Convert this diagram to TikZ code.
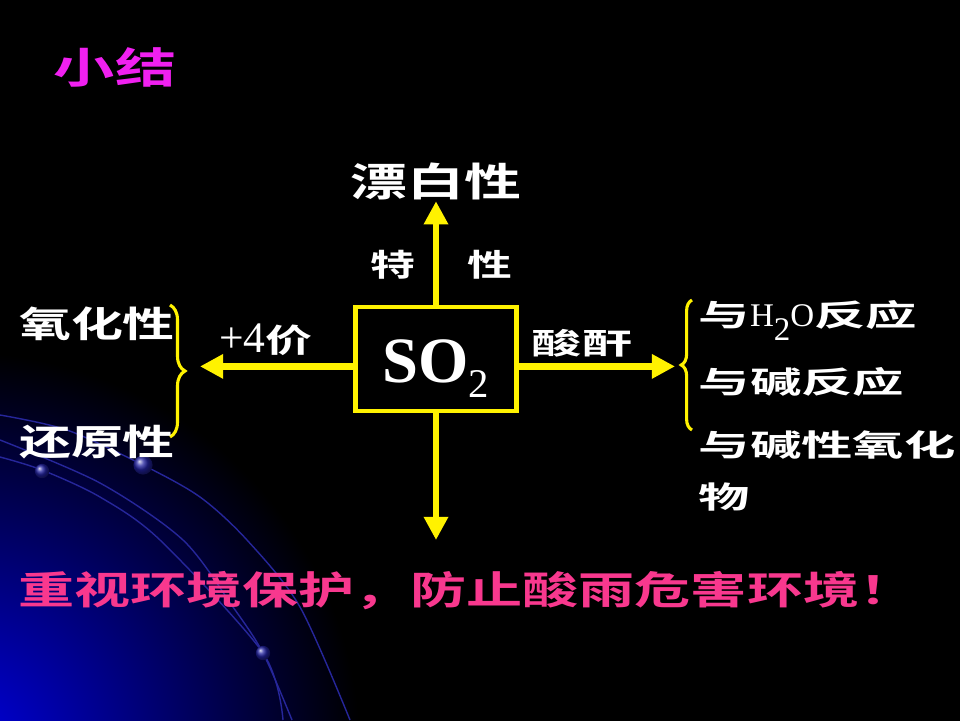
\documentclass[tikz,border=0pt]{standalone}
\usepackage{fontspec}
\setmainfont{Liberation Serif}
\newfontfamily\cjk[FakeStretch=1.45]{Noto Sans CJK SC Bold}
\newfontfamily\cjkw[FakeStretch=1.7]{Noto Sans CJK SC Bold}
\usetikzlibrary{arrows.meta, decorations.pathreplacing}
\definecolor{titlemag}{HTML}{F020F0}
\definecolor{warnpink}{HTML}{F8388E}
\definecolor{bgblue}{HTML}{0000E0}
\definecolor{arcblue}{HTML}{26269A}
\definecolor{dotblue}{HTML}{2222A0}

\begin{document}
\begin{tikzpicture}[
  txt/.style={text=white, inner sep=1pt},
  arr/.style={draw=yellow, line width=4.5pt, -{Triangle[length=0.58cm, width=0.58cm]}},
  brc/.style={decorate, draw=yellow, line width=2.2pt}]
  \useasboundingbox (0,0) rectangle (24,18);
  \fill[black] (-0.2,-0.2) rectangle (24.2,18.2);
  % blue glow and arcs, bottom left
  \begin{scope}
    \clip (-0.2,-0.2) rectangle (24,18);
    \shade[inner color=bgblue, outer color=black] (-1.0,-0.8) circle (10);
    \draw[arcblue, line width=1pt] plot[smooth] coordinates {(0,7.625) (1.675,7.25) (3.575,6.375) (5.0,5.575) (6.175,4.5) (7.5,2.825) (8.75,0)};
    \draw[arcblue, line width=1pt] plot[smooth] coordinates {(0,6.575) (1.05,6.25) (2.5,5.575) (4.0,4.5) (6.575,1.675) (7.075,0)};
    \draw[arcblue, line width=1pt] plot[smooth] coordinates {(0,7.0) (2.5,5.925) (4.575,4.5) (5.825,2.825) (6.575,1.675) (7.3,0)};
    \shade[ball color=dotblue] (3.575,6.375) circle (0.24);
    \shade[ball color=dotblue] (1.05,6.225) circle (0.18);
    \shade[ball color=dotblue] (6.575,1.675) circle (0.18);
  \end{scope}
  \node[text=titlemag, font=\cjk\fontsize{30}{30}\selectfont] (title) at (2.875,16.325) {小结};
  % centre box
  \node[draw=yellow, line width=3pt, minimum width=4.02cm, minimum height=2.6cm] (so2) at (10.9,9.025) {};
  \node[font=\fontsize{46}{46}\selectfont, text=white] (so2f) at ([yshift=-0.25cm]so2.center)
    {\textbf{SO}\raisebox{-10.7pt}{\fontsize{29}{29}\selectfont 2}};
  \node[txt, font=\cjk\fontsize{28}{28}\selectfont] (bai) at (10.9,13.475) {漂白性};
  \node[txt, font=\cjk\fontsize{22}{22}\selectfont] (te) at (9.825,11.375) {特};
  \node[txt, font=\cjk\fontsize{22}{22}\selectfont] (xing) at (12.25,11.375) {性};
  \node[txt, font=\cjkw\fontsize{21}{21}\selectfont] (suan) at (14.55,9.425) {酸酐};
  \node[txt, font=\fontsize{31}{31}\selectfont] (jia) at (6.65,9.5) {+4{\cjk\fontsize{23}{23}\selectfont 价}};
  % arrows
  \coordinate (dn) at (10.9,4.5);
  \coordinate (lt) at (5.0,8.84);
  \coordinate (rt) at (16.875,8.84);
  \draw[arr] (so2.north) -- (bai.south);
  \draw[arr] (so2.south) -- (dn);
  \draw[arr] (so2.west |- lt) -- (lt);
  \draw[arr] (so2.east |- rt) -- (rt);
  % left side
  \draw[brc, decoration={brace, amplitude=0.375cm}] (4.25,10.375) -- (4.25,7.075);
  \node[txt, font=\cjk\fontsize{25.5}{25.5}\selectfont] (yang) at (2.425,9.9) {氧化性};
  \node[txt, font=\cjk\fontsize{25.5}{25.5}\selectfont] (huan) at (2.425,6.95) {还原性};
  % right side
  \draw[brc, decoration={brace, amplitude=0.27cm}] (17.3,7.25) -- (17.3,10.5);
  \node[txt, anchor=base west, font=\cjkw\fontsize{21.5}{21.5}\selectfont] (h2o) at (17.425,9.85)
    {与{\rmfamily\fontsize{23.5}{23.5}\selectfont H\raisebox{-10pt}{2}O}反应};
  \node[txt, anchor=base west, font=\cjkw\fontsize{21.5}{21.5}\selectfont] (jian) at (17.425,8.175) {与碱反应};
  \node[txt, anchor=west, align=left, font=\cjkw\fontsize{21.5}{37}\selectfont] (jxy) at (17.425,6.22) {与碱性氧化\\物};
  % bottom line
  \node[inner sep=0pt, anchor=west, text=warnpink, font=\cjk\fontsize{27.5}{27.5}\selectfont] (warn) at (0.45,3.225)
    {重视环境保护，防止酸雨危害环境！};
\end{tikzpicture}
\end{document}
